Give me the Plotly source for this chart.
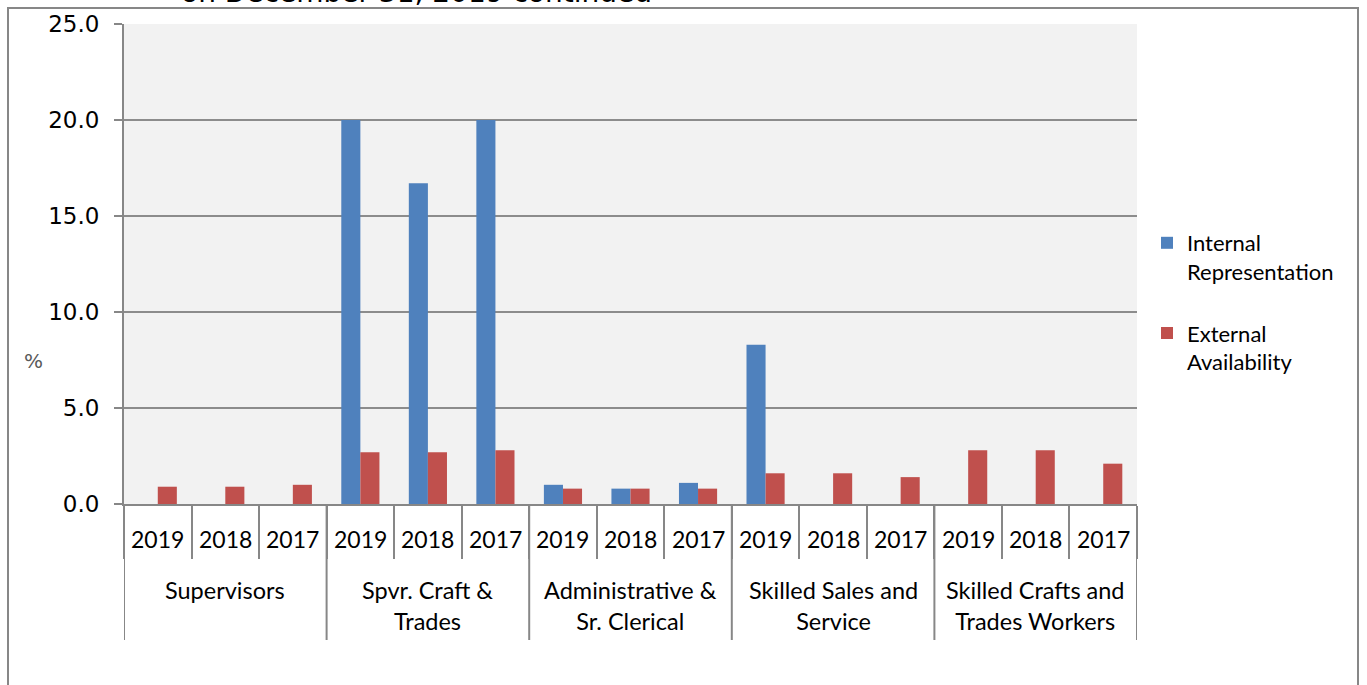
import plotly.graph_objects as go

# ---- data ----
groups = ["Supervisors", "Spvr. Craft &<br>Trades", "Administrative &<br>Sr. Clerical",
          "Skilled Sales and<br>Service", "Skilled Crafts and<br>Trades Workers"]
years = ["2019", "2018", "2017"]
internal = [0, 0, 0, 20.0, 16.7, 20.0, 1.0, 0.8, 1.1, 8.3, 0, 0, 0, 0, 0]
external = [0.9, 0.9, 1.0, 2.7, 2.7, 2.8, 0.8, 0.8, 0.8, 1.6, 1.6, 1.4, 2.8, 2.8, 2.1]
series_names = ["Internal<br>Representation", "External<br>Availability"]
y_ticks = [0, 5, 10, 15, 20, 25]
title_text = "on December 31, 2019 continued"

# ---- geometry helpers ----
W, H = 1367, 685
L, R, T, B = 124, 1137, 24, 504
PH = B - T
PW = R - L

def py(pix):  # pixel y -> paper y
    return (B - pix) / PH

def px(pix):  # pixel x -> paper x
    return (pix - L) / PW

n = len(groups) * len(years)
xs = list(range(n))
year_labels = [years[i % len(years)] for i in xs]

GRAY = "#878787"
fig = go.Figure()
fig.add_trace(go.Bar(x=xs, y=internal, name=series_names[0], marker_color="#4F81BD",
                     marker_line_width=0, legendgroup="a"))
fig.add_trace(go.Bar(x=xs, y=external, name=series_names[1], marker_color="#C0504D",
                     marker_line_width=0, legendgroup="b"))

boundaries = [i - 0.5 for i in range(n + 1)]
group_bounds = [g * len(years) - 0.5 for g in range(len(groups) + 1)]

shapes = []
for gb in group_bounds:
    shapes.append(dict(type="line", xref="x", yref="paper", x0=gb, x1=gb,
                       y0=0, y1=py(640), line=dict(color=GRAY, width=2)))
shapes.append(dict(type="rect", xref="paper", yref="paper", x0=px(8), x1=px(1358),
                   y0=py(700), y1=py(8), line=dict(color=GRAY, width=2),
                   fillcolor="rgba(0,0,0,0)", layer="below"))

annotations = []
for i, yl in zip(xs, year_labels):
    annotations.append(dict(x=i, y=py(539), xref="x", yref="paper", text=yl,
                            showarrow=False, xanchor="center", yanchor="middle",
                            font=dict(family="Lato", size=23, color="#000")))
for g, gname in enumerate(groups):
    cx = g * len(years) + (len(years) - 1) / 2
    annotations.append(dict(x=cx, y=py(574), xref="x", yref="paper", text=gname,
                            showarrow=False, xanchor="center", yanchor="top", align="center",
                            font=dict(family="Lato", size=23.5, color="#000")))
annotations.append(dict(x=px(33), y=py(361), xref="paper", yref="paper", text="%",
                        showarrow=False, xanchor="center", yanchor="middle",
                        font=dict(family="DejaVu Sans", size=20, color="#595959")))
annotations.append(dict(x=px(416), y=py(-7), xref="paper", yref="paper", text=title_text,
                        showarrow=False, xanchor="center", yanchor="middle",
                        font=dict(family="DejaVu Sans", size=28, color="#000")))

fig.update_layout(
    width=W, height=H,
    margin=dict(l=L, r=W - R, t=T, b=H - B, pad=0),
    paper_bgcolor="white", plot_bgcolor="#F2F2F2",
    barmode="group", bargap=0.435, bargroupgap=0,
    showlegend=True,
    legend=dict(x=px(1147), y=py(222), xanchor="left", yanchor="top",
                font=dict(family="Lato", size=22, color="#000"),
                valign="top", traceorder="grouped", tracegroupgap=30,
                bgcolor="rgba(0,0,0,0)", itemclick=False),
    shapes=shapes, annotations=annotations,
)
fig.update_xaxes(range=[-0.5, n - 0.5], tickmode="array", tickvals=boundaries,
                 showticklabels=False, ticks="outside", ticklen=53, tickwidth=2,
                 tickcolor=GRAY, showgrid=False, zeroline=False,
                 showline=True, linecolor=GRAY, linewidth=2)
fig.update_yaxes(range=[0, 25], tickmode="array", tickvals=y_ticks,
                 ticktext=[f"{v:.1f}" for v in y_ticks],
                 ticks="outside", ticklen=8, tickwidth=2, tickcolor=GRAY,
                 showgrid=True, gridcolor="#8C8C8C", gridwidth=2, zeroline=False,
                 showline=True, linecolor=GRAY, linewidth=2,
                 tickfont=dict(family="DejaVu Sans", size=23, color="#000"),
                 ticklabelstandoff=10)

fig.write_html("out.html", config={"displayModeBar": False},
               post_script="document.body.style.margin='0px';")
